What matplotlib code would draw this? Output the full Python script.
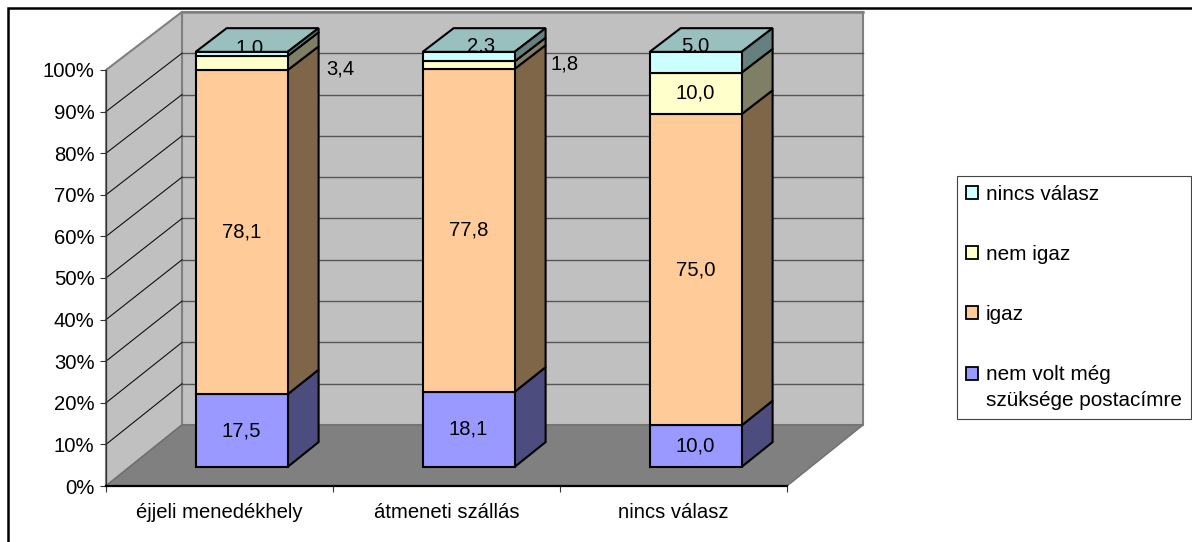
import matplotlib
matplotlib.use("Agg")
import matplotlib.pyplot as plt
from matplotlib.patches import Polygon, Patch, Rectangle

plt.rcParams['font.family'] = ['Liberation Sans', 'DejaVu Sans']

categories = ['éjjeli menedékhely', 'átmeneti szállás', 'nincs válasz']
series_names = ['nem volt még\nszüksége postacímre', 'igaz', 'nem igaz', 'nincs válasz']
nem_volt = [17.5, 18.1, 10.0]
igaz = [78.1, 77.8, 75.0]
nem_igaz = [3.4, 1.8, 10.0]
nincs_valasz = [1.0, 2.3, 5.0]
series = [nem_volt, igaz, nem_igaz, nincs_valasz]
pct_ticks = list(range(0, 101, 10))

front = ['#9999FF', '#FFCC99', '#FFFFCC', '#CCFFFF']
side = ['#4C4C7F', '#7F6649', '#7F7F66', '#667F7F']
top = ['#7373BF', '#BF9973', '#BFBF99', '#99BFBF']

W, H = 1192, 542
FS = 14.6
fig = plt.figure(figsize=(W / 100, H / 100), dpi=100, facecolor='white')
L, R, B, T = 106, 787, 486, 70
ax = fig.add_axes([L / W, 1 - B / H, (R - L) / W, (B - T) / H])
ax.set_xlim(0, len(categories))
ax.set_ylim(0, 100)
ax.patch.set_visible(False)

# oblique projection: depth 0 = front plane, depth 1 = back wall
DX = 76 / ((R - L) / 3)
DY = 61 / ((B - T) / 100)
SHRINK = 0.007


def pr(x, p, d=0.0):
    return x + d * DX, p * (1 - SHRINK * d) + d * DY


def poly(points, fc, ec, lw, z):
    ax.add_patch(Polygon(points, closed=True, fc=fc, ec=ec, lw=lw, zorder=z,
                         clip_on=False, joinstyle='miter'))


n = len(categories)
WALL, FLOOR, EDGE = '#C0C0C0', '#808080', '#808080'
poly([pr(0, 0, 1), pr(n, 0, 1), pr(n, 100, 1), pr(0, 100, 1)], WALL, EDGE, 1.5, 1)
poly([pr(0, 0), pr(0, 0, 1), pr(0, 100, 1), pr(0, 100)], WALL, EDGE, 1.5, 1)
poly([pr(0, 0), pr(n, 0), pr(n, 0, 1), pr(0, 0, 1)], FLOOR, '#707070', 1, 1.2)
for p in pct_ticks[1:-1]:
    ax.plot(*zip(pr(0, p, 1), pr(n, p, 1)), color='#555555', lw=1, zorder=1.1, clip_on=False)
    ax.plot(*zip(pr(0, p), pr(0, p, 1)), color='#111111', lw=0.8, zorder=1.1, clip_on=False)
ax.plot(*zip(pr(0, 100, 1), pr(n, 100, 1)), color=EDGE, lw=1.8, zorder=1.3, clip_on=False)

BAR_X, BAR_W = 0.2905, 0.405
D1, D2 = 0.312, 0.72
LW = 1.5
# pixel nudges for labels Excel moved off their segments
nudges = {(0, 2): (99, -4), (0, 3): (8, 8), (1, 2): (96, 3), (1, 3): (12, 13), (2, 3): (0, 18)}
for i in range(n):
    x0, x1 = i + BAR_X, i + BAR_X + BAR_W
    base = 0.0
    for s, vals in enumerate(series):
        v = vals[i]
        t = base + v
        z = 3 + 0.01 * s
        poly([pr(x1, base, D1), pr(x1, base, D2), pr(x1, t, D2), pr(x1, t, D1)], side[s], 'black', LW, z)
        poly([pr(x0, base, D1), pr(x1, base, D1), pr(x1, t, D1), pr(x0, t, D1)], front[s], 'black', LW, z)
        if s == len(series) - 1:
            poly([pr(x0, t, D1), pr(x1, t, D1), pr(x1, t, D2), pr(x0, t, D2)], top[s], 'black', LW, 2.5)
        off = nudges.get((i, s), (0, 2))
        lz = 2.6 if s == len(series) - 1 else 6
        ax.annotate(f'{v:.1f}'.replace('.', ','), xy=pr((x0 + x1) / 2, (base + t) / 2, D1),
                    xytext=off, textcoords='offset pixels', ha='center', va='center_baseline',
                    fontsize=FS, color='black', zorder=lz, annotation_clip=False)
        base = t

# axes furniture
for k in ('top', 'right'):
    ax.spines[k].set_visible(False)
ax.spines['left'].set_color('#333333')
ax.spines['left'].set_linewidth(0.9)
ax.spines['bottom'].set_color('black')
ax.spines['bottom'].set_linewidth(1.6)
for sp in ax.spines.values():
    sp.set_zorder(2)
ax.set_yticks(pct_ticks)
ax.set_yticklabels([f'{p}%' for p in pct_ticks])
ax.set_xticks(range(n + 1))
ax.set_xticklabels([])
ax.set_xticks([i + 0.5 for i in range(n)], minor=True)
ax.set_xticklabels(categories, minor=True)
ax.tick_params(axis='both', which='major', length=4.3, width=0.8, color='#333333', labelsize=FS, pad=4)
ax.tick_params(axis='x', which='minor', length=0, labelsize=FS, pad=12.5)

# legend, top entry first
handles = [Patch(fc=front[s], ec='black', lw=1.3) for s in range(3, -1, -1)]
labels = [series_names[s] for s in range(3, -1, -1)]
leg = fig.legend(handles, labels, loc='upper left', bbox_to_anchor=(957 / W, 1 - 176 / H),
                 fontsize=14.95, frameon=True, fancybox=False, framealpha=1, edgecolor='#444444',
                 borderpad=0.42, borderaxespad=0, handlelength=0.58, handleheight=0.58,
                 handletextpad=0.4, labelspacing=1.985)
leg.get_frame().set_linewidth(0.8)
leg.get_texts()[-1].set_linespacing(1.47)
h = leg.legend_handles[-1]
h.set_y(h.get_y() + 10.2)

# outer chart frame, running off the right and bottom of the image
fig.add_artist(Rectangle((8 / W, -0.1), 1.2, 1 - 8 / H + 0.1, transform=fig.transFigure,
                         fc='none', ec='black', lw=1.8))
fig.savefig('out.png', dpi=100)
